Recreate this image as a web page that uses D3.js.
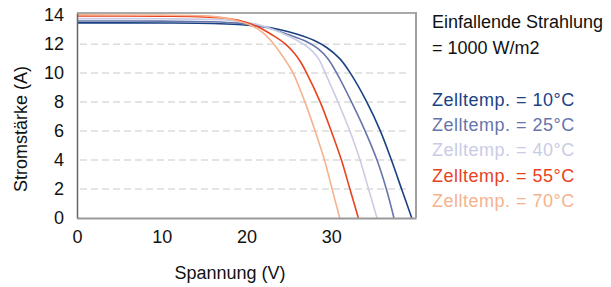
<!DOCTYPE html>
<html>
<head>
<meta charset="utf-8">
<script src="https://cdn.jsdelivr.net/npm/d3@7"></script>
<style>
  body { margin: 0; background: #fff; }
  svg text { font-family: "Liberation Sans", Arial, sans-serif; }
</style>
</head>
<body>
<div id="chart"></div>
<script>
// I-V curves, one per cell temperature
let temps = ["10", "25", "40", "55", "70"];
let colors = ["#1a4283", "#6675aa", "#c9cce6", "#e8421e", "#f6b28e"];

let volt10 = [0, 10, 16, 19, 21.6, 24, 26, 28, 29.5, 31, 32.2, 34.2, 35.8, 37.1, 38.3, 39.5];
let amp10  = [13.47, 13.46, 13.43, 13.36, 13.23, 13.0, 12.68, 12.25, 11.75, 11.0, 10.05, 8, 6, 4, 2, 0];
let volt25 = [0, 10, 16, 19, 21, 23, 25, 27, 28.4, 29.6, 30.6, 32.4, 34.0, 35.4, 36.5, 37.4];
let amp25  = [13.6, 13.59, 13.55, 13.45, 13.3, 13.05, 12.65, 12.2, 11.7, 11.0, 10.05, 8, 6, 4, 2, 0];
let volt40 = [0, 10, 16, 19, 21, 23, 25, 26.6, 27.8, 28.6, 29.3, 30.8, 32.2, 33.4, 34.4, 35.4];
let amp40  = [13.76, 13.75, 13.7, 13.58, 13.4, 13.05, 12.55, 12.05, 11.5, 10.9, 10, 8, 6, 4, 2, 0];
let volt55 = [0, 10, 15, 18, 20, 21.5, 23, 24.5, 25.6, 26.4, 27.1, 28.7, 30.0, 31.2, 32.2, 33.2];
let amp55  = [13.95, 13.93, 13.88, 13.75, 13.5, 13.15, 12.65, 12.05, 11.4, 10.75, 10, 8, 6, 4, 2, 0];
let volt70 = [0, 10, 15, 17, 19, 20.5, 21.8, 23.1, 24.1, 24.9, 25.5, 26.9, 28.1, 29.2, 30.1, 31.0];
let amp70  = [14.02, 14.0, 13.95, 13.85, 13.6, 13.3, 12.85, 12.1, 11.3, 10.6, 10, 8, 6, 4, 2, 0];

let xTicks = [0, 10, 20, 30];
let yTicks = [0, 2, 4, 6, 8, 10, 12, 14];
let gridTicks = [2, 4, 6, 8, 10, 12];

let legendHead = ["Einfallende Strahlung", "= 1000 W/m2"];

let curves = [
    {volt: volt10, amp: amp10},
    {volt: volt25, amp: amp25},
    {volt: volt40, amp: amp40},
    {volt: volt55, amp: amp55},
    {volt: volt70, amp: amp70}
];

let svg = d3.select("#chart").append("svg")
    .attr("width", 611)
    .attr("height", 287);

let plotLeft = 77, plotRight = 416, plotTop = 13, plotBottom = 218;

let xScale = d3.scaleLinear().domain([0, 40]).range([plotLeft, plotRight]);
let yScale = d3.scaleLinear().domain([0, 14.15]).range([plotBottom, plotTop]);

// dashed grid
svg.append("g")
    .selectAll("line")
    .data(gridTicks)
    .join("line")
    .attr("x1", plotLeft + 3)
    .attr("x2", plotRight - 6)
    .attr("y1", d => yScale(d))
    .attr("y2", d => yScale(d))
    .attr("stroke", "#dcdcdc")
    .attr("stroke-width", 1.5)
    .attr("stroke-dasharray", "7,4");

// frame: top and right
svg.append("line")
    .attr("x1", plotLeft).attr("x2", plotRight + 1)
    .attr("y1", plotTop).attr("y2", plotTop)
    .attr("stroke", "#555").attr("stroke-width", 1.2);
svg.append("line")
    .attr("x1", plotRight).attr("x2", plotRight)
    .attr("y1", plotTop).attr("y2", plotBottom)
    .attr("stroke", "#a0a0a0").attr("stroke-width", 2);

// curves
let line = d3.line()
    .x(d => xScale(d[0]))
    .y(d => yScale(d[1]))
    .curve(d3.curveCatmullRom.alpha(0.5));

svg.append("g")
    .selectAll("path")
    .data(curves)
    .join("path")
    .attr("d", c => line(c.volt.map((v, i) => [v, c.amp[i]])))
    .attr("fill", "none")
    .attr("stroke", (c, i) => colors[i])
    .attr("stroke-width", 1.6);

// axes
let xAxis = svg.append("g")
    .attr("transform", "translate(0," + plotBottom + ")")
    .call(d3.axisBottom(xScale).tickValues(xTicks).tickSize(0).tickPadding(12));
xAxis.select(".domain").attr("stroke", "#999").attr("stroke-width", 2);

let yAxis = svg.append("g")
    .attr("transform", "translate(" + plotLeft + ",0)")
    .call(d3.axisLeft(yScale).tickValues(yTicks).tickSize(0).tickPadding(13));
yAxis.select(".domain").attr("stroke", "#666").attr("stroke-width", 1.5);

svg.selectAll(".tick text")
    .attr("font-size", 18)
    .attr("fill", "#111")
    .style("font-family", "'Liberation Sans', Arial, sans-serif");

// axis titles
svg.append("text")
    .attr("x", 230)
    .attr("y", 279)
    .attr("text-anchor", "middle")
    .attr("font-size", 18)
    .attr("fill", "#111")
    .text("Spannung (V)");

svg.append("text")
    .attr("transform", "translate(27,129) rotate(-90)")
    .attr("text-anchor", "middle")
    .attr("font-size", 18)
    .attr("fill", "#111")
    .text("Stromstärke (A)");

// legend
svg.append("g")
    .selectAll("text")
    .data(legendHead)
    .join("text")
    .attr("x", 432)
    .attr("y", (d, i) => 28 + i * 26)
    .attr("font-size", 18)
    .attr("fill", "#111")
    .text(d => d);

svg.append("g")
    .selectAll("text")
    .data(temps)
    .join("text")
    .attr("x", 432)
    .attr("y", (d, i) => 106 + i * 25.2)
    .attr("font-size", 18)
    .attr("letter-spacing", 0.5)
    .attr("fill", (d, i) => colors[i])
    .text(d => "Zelltemp. = " + d + "°C");
</script>
</body>
</html>
